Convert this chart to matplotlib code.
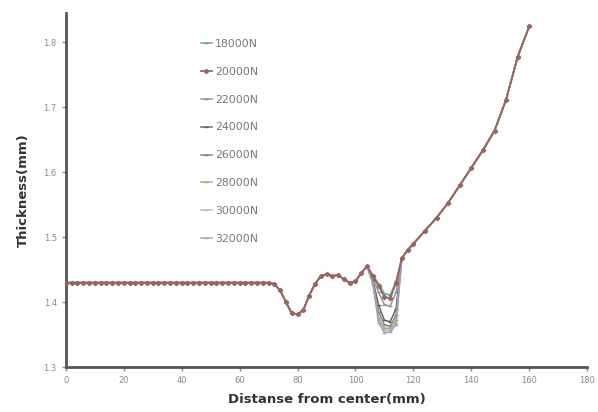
import numpy as np
import matplotlib
matplotlib.use('Agg')
import matplotlib.pyplot as plt

# distance from center (mm)
x_flat = list(range(0, 72, 2))
x_mid = list(range(72, 122, 2))
x_rise = [124, 128, 132, 136, 140, 144, 148, 152, 156, 160]
x = x_flat + x_mid + x_rise

base_flat = [1.43] * len(x_flat)
base_mid = [1.428, 1.418, 1.400, 1.383, 1.381, 1.388, 1.410, 1.428, 1.440, 1.443,
            1.440, 1.442, 1.435, 1.430, 1.432, 1.445, 1.455,
            None, None, None, None, None,  # 106..114 dip, per series
            1.468, 1.480, 1.490]
base_rise = [1.510, 1.530, 1.553, 1.580, 1.607, 1.634, 1.664, 1.712, 1.778, 1.825]

# dip values at 106, 108, 110, 112, 114 for each load
loads = ['18000N', '20000N', '22000N', '24000N', '26000N', '28000N', '30000N', '32000N']
dips = {
    '18000N': [1.442, 1.428, 1.413, 1.411, 1.432],
    '20000N': [1.440, 1.425, 1.408, 1.406, 1.430],
    '22000N': [1.437, 1.415, 1.396, 1.394, 1.415],
    '24000N': [1.434, 1.395, 1.372, 1.370, 1.390],
    '26000N': [1.432, 1.385, 1.365, 1.363, 1.380],
    '28000N': [1.430, 1.375, 1.360, 1.360, 1.372],
    '30000N': [1.430, 1.372, 1.357, 1.357, 1.368],
    '32000N': [1.428, 1.368, 1.353, 1.354, 1.365],
}
colors = ['#5c9e90', '#9a6460', '#8c8c8c', '#5a5a5a', '#7a7a7a', '#a4a868', '#b4b4b4', '#a396b4']

fig = plt.figure(figsize=(5.98, 4.12), dpi=100)
ax = fig.add_axes([0.110, 0.109, 0.872, 0.859])

for i, name in enumerate(loads):
    mid = list(base_mid)
    mid[17:22] = dips[name]
    y = base_flat + mid + base_rise
    if name == '20000N':
        ax.plot(x, y, color=colors[i], lw=1.3, marker='D', ms=2.2, label=name, zorder=5)
    else:
        ax.plot(x, y, color=colors[i], lw=1.1, marker='_', ms=3, label=name, alpha=0.9)

ax.set_xlim(0, 180)
ax.set_ylim(1.3, 1.845)
ax.set_xticks(range(0, 181, 20))
ax.set_yticks([1.3, 1.4, 1.5, 1.6, 1.7, 1.8])
ax.set_yticklabels(['1.3', '1.4', '1.5', '1.6', '1.7', '1.8'])
ax.tick_params(labelsize=6, colors='#888888', length=3, width=1)

for s in ['top', 'right']:
    ax.spines[s].set_visible(False)
for s in ['left', 'bottom']:
    ax.spines[s].set_color('#555555')
    ax.spines[s].set_linewidth(2)

ax.set_xlabel('Distanse from center(mm)', fontsize=9.5, fontweight='bold', color='#333333', labelpad=6)
ax.set_ylabel('Thickness(mm)', fontsize=9.5, fontweight='bold', color='#333333', labelpad=10)

leg = ax.legend(loc='upper left', bbox_to_anchor=(0.24, 0.955), frameon=False, fontsize=7.8,
                labelspacing=1.65, handlelength=1.0, handletextpad=0.3)
for t in leg.get_texts():
    t.set_color('#777777')

fig.savefig('out.png', dpi=100)
